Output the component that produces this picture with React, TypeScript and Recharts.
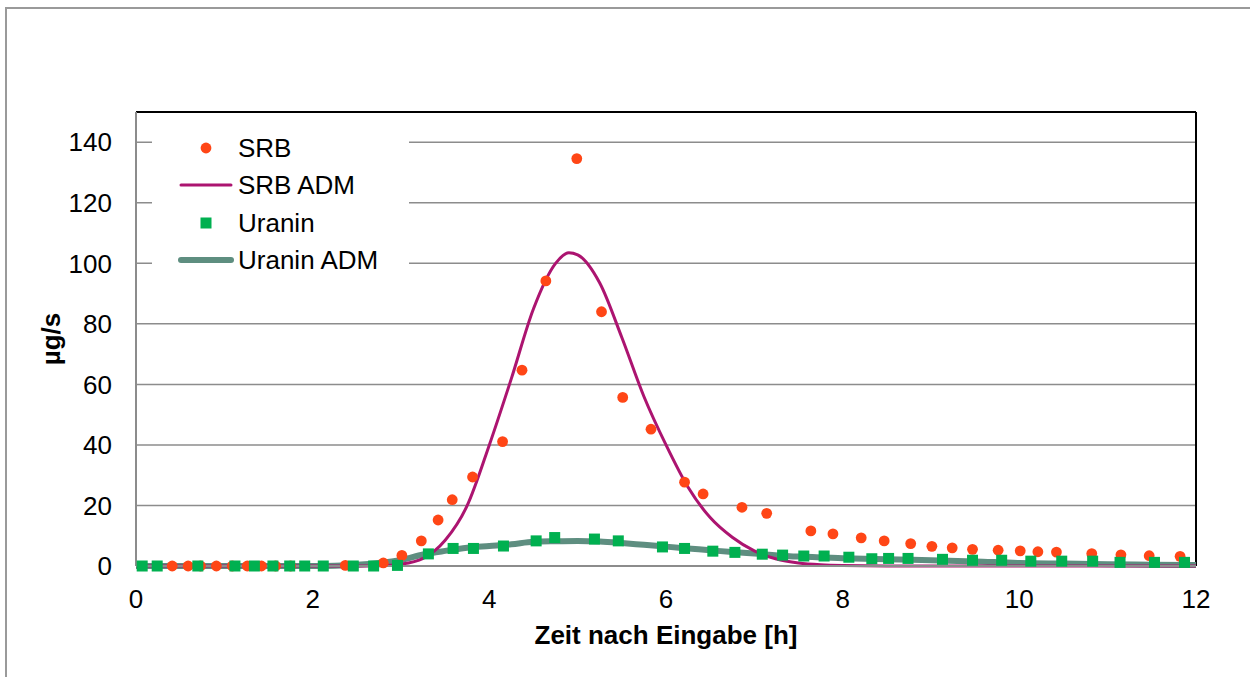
import React from 'react';
import { ComposedChart, Line, Scatter, XAxis, YAxis, CartesianGrid, Legend, ReferenceLine } from 'recharts';

// measured tracer data (hours after injection, µg/s)
const srbTime = [0.41, 0.59, 0.73, 0.91, 1.09, 1.26, 1.42, 1.58, 1.75, 2.37, 2.8, 3.01, 3.23, 3.42, 3.58, 3.81, 4.15, 4.37, 4.64, 4.99, 5.27, 5.51, 5.83, 6.21, 6.42, 6.86, 7.14, 7.64, 7.89, 8.21, 8.47, 8.77, 9.01, 9.24, 9.47, 9.76, 10.01, 10.21, 10.42, 10.82, 11.15, 11.47, 11.82];
const srbValue = [0, 0, 0, 0, 0, 0, 0, 0, 0, 0.2, 1.0, 3.5, 8.3, 15.2, 21.9, 29.4, 41.1, 64.7, 94.2, 134.6, 84.0, 55.7, 45.2, 27.7, 23.8, 19.4, 17.4, 11.6, 10.6, 9.3, 8.3, 7.4, 6.5, 6.0, 5.5, 5.2, 5.0, 4.7, 4.6, 4.1, 3.7, 3.4, 3.2];

const uraninTime = [0.07, 0.24, 0.7, 1.12, 1.34, 1.55, 1.74, 1.91, 2.12, 2.46, 2.69, 2.96, 3.31, 3.59, 3.82, 4.16, 4.53, 4.74, 5.19, 5.46, 5.96, 6.21, 6.53, 6.78, 7.09, 7.32, 7.56, 7.79, 8.07, 8.33, 8.52, 8.74, 9.13, 9.47, 9.8, 10.13, 10.48, 10.83, 11.14, 11.53, 11.87];
const uraninValue = [0, 0, 0, 0, 0, 0, 0, 0, 0, 0, 0, 0.2, 4.0, 5.8, 5.8, 6.6, 8.3, 9.4, 8.9, 8.3, 6.3, 5.8, 4.9, 4.5, 3.9, 3.6, 3.3, 3.3, 2.9, 2.4, 2.5, 2.5, 2.2, 1.9, 1.9, 1.6, 1.6, 1.6, 1.2, 1.2, 1.2];

// ADM model curves
const srbAdmTime = [0, 0.5, 1, 1.5, 2, 2.5, 2.75, 3, 3.25, 3.5, 3.75, 4, 4.25, 4.5, 4.75, 4.9, 5, 5.25, 5.5, 5.75, 6, 6.25, 6.5, 6.75, 7, 7.25, 7.5, 7.75, 8, 8.5, 9, 10, 11, 12];
const srbAdmValue = [0, 0, 0, 0, 0, 0, 0.1, 0.6, 2.5, 8.5, 20, 40, 62, 85, 100, 103.5, 102.8, 93.5, 75.5, 56, 40, 26, 16, 9.5, 5, 2.3, 1.0, 0.4, 0.15, 0, 0, 0, 0, 0];

const uraninAdmTime = [0, 0.5, 1, 1.5, 2, 2.25, 2.5, 2.75, 3, 3.25, 3.5, 3.75, 4, 4.25, 4.5, 4.75, 5, 5.25, 5.5, 5.75, 6, 6.25, 6.5, 6.75, 7, 7.5, 8, 8.5, 9, 9.5, 10, 10.5, 11, 11.5, 12];
const uraninAdmValue = [0, 0, 0, 0, 0, 0.1, 0.4, 1.0, 2.0, 3.8, 5.0, 6.0, 6.6, 7.2, 8.0, 8.2, 8.3, 8.1, 7.6, 7.0, 6.4, 5.8, 5.2, 4.6, 4.1, 3.1, 2.6, 2.2, 1.9, 1.5, 1.0, 0.8, 0.6, 0.45, 0.3];

const xTicks = [0, 2, 4, 6, 8, 10, 12];
const yTicks = [0, 20, 40, 60, 80, 100, 120, 140];
const legendOrder = ['SRB', 'SRB ADM', 'Uranin', 'Uranin ADM'];

const zip = (t: number[], v: number[]) => t.map((x, i) => ({ t: x, c: v[i] }));
const srbData = zip(srbTime, srbValue);
const uraninData = zip(uraninTime, uraninValue);
const srbAdmData = zip(srbAdmTime, srbAdmValue);
const uraninAdmData = zip(uraninAdmTime, uraninAdmValue);

const FONT = '"Liberation Sans", Arial, sans-serif';
const SRB_COLOR = '#FF4616';
const SRB_ADM_COLOR = '#AC1470';
const URANIN_COLOR = '#00B050';
const URANIN_ADM_COLOR = '#5E8E80';
const lineWidths: Record<string, number> = { 'SRB ADM': 3, 'Uranin ADM': 6 };

const CircleDot = (props: any) => <circle cx={props.cx} cy={props.cy} r={5.4} fill={SRB_COLOR} />;
const SquareDot = (props: any) => (
  <rect x={props.cx - 5.5} y={props.cy - 5.5} width={11} height={11} fill={URANIN_COLOR} />
);

const LegendBox = ({ payload }: any) => {
  const items = [...(payload || [])].sort(
    (a: any, b: any) => legendOrder.indexOf(a.value) - legendOrder.indexOf(b.value)
  );
  return (
    <div style={{ background: '#fff', width: 257, height: 160, position: 'relative' }}>
      {items.map((it: any, i: number) => (
        <div
          key={it.value}
          style={{ position: 'absolute', left: 0, top: 7 + i * 37.4, height: 32, display: 'flex', alignItems: 'center' }}
        >
          <svg width={86} height={32}>
            {it.type === 'circle' && <circle cx={54} cy={16} r={5.4} fill={it.color} />}
            {it.type === 'square' && <rect x={48.5} y={10.5} width={11} height={11} fill={it.color} />}
            {it.type === 'line' && (
              <line x1={29} y1={16} x2={79} y2={16} stroke={it.color} strokeWidth={lineWidths[it.value]} strokeLinecap="round" />
            )}
          </svg>
          <span style={{ fontFamily: FONT, fontSize: 26, lineHeight: '32px', color: '#000' }}>{it.value}</span>
        </div>
      ))}
    </div>
  );
};

const YTitle = ({ viewBox }: any) => {
  const cy = viewBox.y + viewBox.height / 2;
  return (
    <text x={51} y={cy} transform={`rotate(-90, 51, ${cy})`} textAnchor="middle" dominantBaseline="central"
      style={{ fontFamily: FONT, fontSize: 26, fontWeight: 'bold', fill: '#000' }}>
      µg/s
    </text>
  );
};

const XTitle = ({ viewBox }: any) => (
  <text x={viewBox.x + viewBox.width / 2} y={viewBox.y + 78} textAnchor="middle"
    style={{ fontFamily: FONT, fontSize: 26, fontWeight: 'bold', fill: '#000' }}>
    Zeit nach Eingabe [h]
  </text>
);

export default function App() {
  const tickStyle = { fill: '#000', fontSize: 26, fontFamily: FONT };
  return (
    <div style={{ position: 'absolute', left: 0, top: 0, width: 1250, height: 677, overflow: 'hidden', background: '#fff' }}>
      <div style={{ position: 'absolute', left: 5, top: 7, width: 1300, height: 700, border: '2px solid #9a9a9a' }} />
      <div style={{ position: 'absolute', left: 0, top: 0 }}>
        <ComposedChart width={1250} height={677} margin={{ top: 112, right: 54, bottom: 0, left: 0 }}>
          <CartesianGrid vertical={false} stroke="#8c8c8c" strokeWidth={1.5} />
          <XAxis
            type="number" dataKey="t" domain={[0, 12]} ticks={xTicks} height={111}
            axisLine={{ stroke: '#8c8c8c', strokeWidth: 2 }} tickLine={false} tickSize={0} tickMargin={24}
            tick={tickStyle} label={<XTitle />} allowDecimals={false}
          />
          <YAxis
            type="number" dataKey="c" domain={[0, 150]} ticks={yTicks} width={136}
            axisLine={{ stroke: '#8c8c8c', strokeWidth: 2 }} tickLine={false} tickSize={0} tickMargin={24}
            tick={tickStyle} label={<YTitle />}
          />
          <ReferenceLine y={150} stroke="#000" strokeWidth={2} />
          <ReferenceLine x={12} stroke="#000" strokeWidth={2} />
          <Legend
            layout="vertical" align="center" verticalAlign="middle" content={<LegendBox />}
            wrapperStyle={{ position: 'absolute', left: 152, top: 125, width: 257, height: 160 }}
          />
          <Line data={uraninAdmData} dataKey="c" name="Uranin ADM" type="monotone" stroke={URANIN_ADM_COLOR}
            strokeWidth={6} dot={false} activeDot={false} legendType="line" isAnimationActive={false} />
          <Line data={srbAdmData} dataKey="c" name="SRB ADM" type="monotone" stroke={SRB_ADM_COLOR}
            strokeWidth={3} dot={false} activeDot={false} legendType="line" isAnimationActive={false} />
          <Scatter data={srbData} dataKey="c" name="SRB" fill={SRB_COLOR} shape={<CircleDot />}
            legendType="circle" isAnimationActive={false} />
          <Scatter data={uraninData} dataKey="c" name="Uranin" fill={URANIN_COLOR} shape={<SquareDot />}
            legendType="square" isAnimationActive={false} />
        </ComposedChart>
      </div>
    </div>
  );
}
